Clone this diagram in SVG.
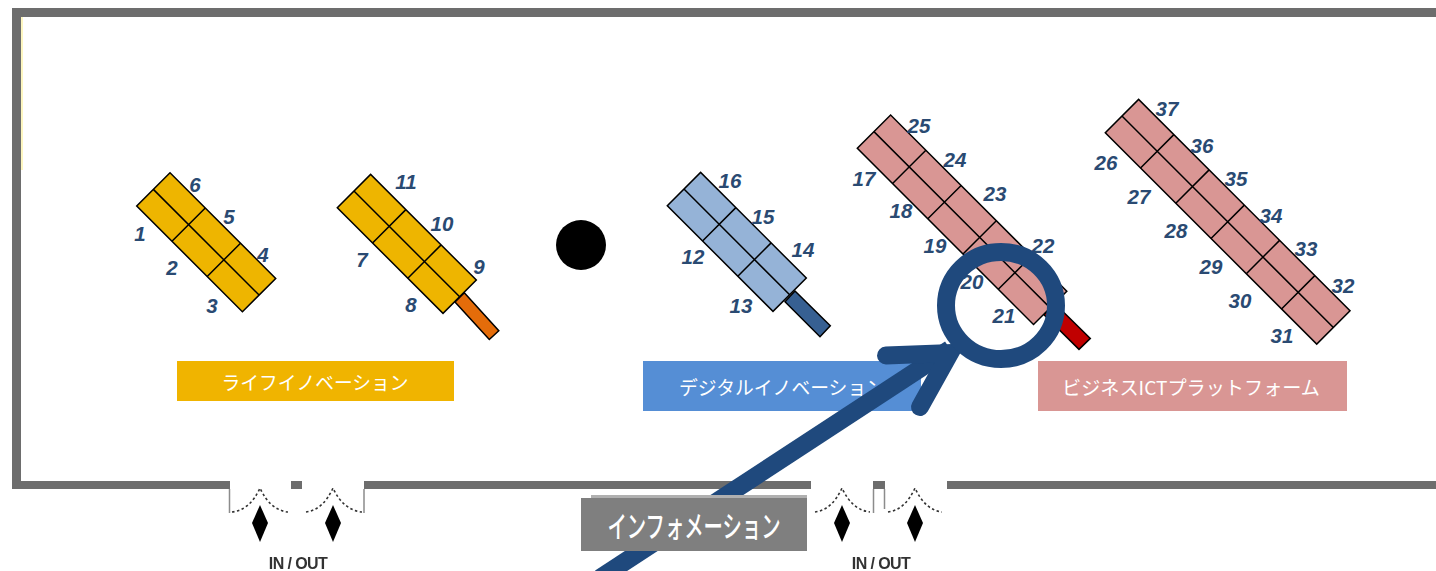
<svg xmlns="http://www.w3.org/2000/svg" width="1436" height="571" viewBox="0 0 1436 571">
<defs><filter id="soft" x="-5%" y="-5%" width="110%" height="110%"><feGaussianBlur stdDeviation="0.6"/></filter></defs>
<style>
text{font-family:"Noto Sans CJK JP","Liberation Sans",sans-serif}
.wall{fill:#6d6d6d}
.jamb{stroke:#8c8c8c;stroke-width:1.5;fill:none}
.arc{stroke:#333;stroke-width:1.6;stroke-dasharray:2.5 2.5;fill:none}
.dia{fill:#000}
.io{font-family:"Liberation Sans",Arial,sans-serif;font-size:16px;font-weight:bold;fill:#333;letter-spacing:-0.6px;text-anchor:middle}
.cell{stroke:#000;stroke-width:1.5}
.ln{stroke:#000;stroke-width:1.5}
.stick{stroke:#000;stroke-width:1.5}
.n{font-family:"Liberation Sans",Arial,sans-serif;font-size:20.5px;font-weight:bold;font-style:italic;fill:#2a4a72;text-anchor:middle}
.lab{fill:#fff;font-size:19px;text-anchor:middle}
.y{fill:#eeb500}.b{fill:#95b3d7}.p{fill:#d99694}
</style>
<rect width="1436" height="571" fill="#fff"/>
<g id="room" filter="url(#soft)">
<rect class="wall" x="12" y="8" width="1430" height="9"/>
<rect class="wall" x="12" y="8" width="9" height="481"/>
<rect class="wall" x="12" y="481" width="218" height="8"/>
<rect class="wall" x="291" y="481" width="11" height="8"/>
<rect class="wall" x="364" y="481" width="447" height="8"/>
<rect class="wall" x="873" y="481" width="12" height="8"/>
<rect class="wall" x="947" y="481" width="495" height="8"/>
<path class="jamb" d="M229.5 489V513M364 489V513M873.5 489V513M884.5 489V509"/>
</g>
<rect id="room-edge" x="21" y="17" width="2" height="153" fill="#fdf6c0"/>
<g id="door-1" filter="url(#soft)">
<path class="arc" d="M232 512Q250 510 260 488Q270 510 288 512"/>
<path class="dia" d="M260 505L268 523L260 542L252 523Z"/>
</g>
<g id="door-2" filter="url(#soft)">
<path class="arc" d="M306 512Q323 510 333 488Q343 510 362 512"/>
<path class="dia" d="M333 505L341 523L333 542L325 523Z"/>
<text class="io" x="298" y="569">IN / OUT</text>
</g>
<g id="door-3" filter="url(#soft)">
<path class="arc" d="M815 512Q832 510 842 488Q852 510 870 512"/>
<path class="dia" d="M842 505L850 523L842 542L834 523Z"/>
</g>
<g id="door-4" filter="url(#soft)">
<path class="arc" d="M888 512Q905 510 915 488Q925 510 942 512"/>
<path class="dia" d="M915 505L923 523L915 542L907 523Z"/>
<text class="io" x="881" y="569">IN / OUT</text>
</g>
<g id="booth-1-6">
<g transform="translate(136.7 206) rotate(45)">
<rect class="cell y" x="0" y="-47.1" width="149.5" height="47.1"/>
<path class="ln" d="M0 -23.55H149.5M49.85 -47.1V0M99.7 -47.1V0"/>
</g>
<text class="n" x="140" y="241">1</text><text class="n" x="172" y="275">2</text><text class="n" x="212" y="313">3</text><text class="n" x="263" y="262">4</text><text class="n" x="229" y="224">5</text><text class="n" x="195" y="192">6</text>
</g>
<g id="booth-7-11">
<polygon class="stick" fill="#e46c0a" points="464.3,292.7 498.8,330.7 489.3,339.5 455,302"/>
<g transform="translate(337.3 207.7) rotate(45)">
<rect class="cell y" x="0" y="-47.1" width="149.5" height="47.1"/>
<path class="ln" d="M0 -23.55H149.5M49.85 -47.1V0M99.7 -47.1V0"/>
</g>
<text class="n" x="362" y="267">7</text><text class="n" x="411" y="312">8</text><text class="n" x="479" y="274">9</text><text class="n" x="442" y="231">10</text><text class="n" x="406" y="189">11</text>
</g>
<g id="speaker"><circle cx="581" cy="245" r="25" fill="#000"/></g>
<g id="booth-12-16">
<polygon class="stick" fill="#376092" points="795,291 830.3,325.7 820,336.7 785,301.7"/>
<g transform="translate(667.3 205.7) rotate(45)">
<rect class="cell b" x="0" y="-47.1" width="149.5" height="47.1"/>
<path class="ln" d="M0 -23.55H149.5M49.85 -47.1V0M99.7 -47.1V0"/>
</g>
<text class="n" x="693" y="264">12</text><text class="n" x="741" y="313">13</text><text class="n" x="803" y="257">14</text><text class="n" x="763" y="224">15</text><text class="n" x="730" y="188">16</text>
</g>
<g id="booth-17-25">
<polygon class="stick" fill="#c00000" points="1055,303.7 1090.3,338.4 1079,349.4 1044,314.7"/>
<g transform="translate(857.3 148.3) rotate(45)">
<rect class="cell p" x="0" y="-47.1" width="249.2" height="47.1"/>
<path class="ln" d="M0 -23.55H249.2M49.85 -47.1V0M99.7 -47.1V0M149.5 -47.1V0M199.4 -47.1V0"/>
</g>
<text class="n" x="864" y="186">17</text><text class="n" x="901" y="218">18</text><text class="n" x="935" y="253">19</text><text class="n" x="972" y="289">20</text><text class="n" x="1004" y="323">21</text><text class="n" x="1043" y="253">22</text><text class="n" x="995" y="201">23</text><text class="n" x="955" y="167">24</text><text class="n" x="919" y="133">25</text>
</g>
<g id="booth-26-37">
<g transform="translate(1105.3 132.7) rotate(45)">
<rect class="cell p" x="0" y="-47.1" width="299" height="47.1"/>
<path class="ln" d="M0 -23.55H299M49.85 -47.1V0M99.7 -47.1V0M149.5 -47.1V0M199.4 -47.1V0M249.2 -47.1V0"/>
</g>
<text class="n" x="1106" y="170">26</text><text class="n" x="1139" y="204">27</text><text class="n" x="1176" y="238">28</text><text class="n" x="1211" y="274">29</text><text class="n" x="1240" y="308">30</text><text class="n" x="1282" y="343">31</text><text class="n" x="1343" y="293">32</text><text class="n" x="1306" y="256">33</text><text class="n" x="1271" y="223">34</text><text class="n" x="1236" y="186">35</text><text class="n" x="1202" y="153">36</text><text class="n" x="1167" y="116">37</text>
</g>
<g id="label-life">
<rect x="177" y="361" width="277" height="40" fill="#f0b400"/>
<text class="lab" x="315" y="390" textLength="187" lengthAdjust="spacingAndGlyphs">ライフイノベーション</text>
</g>
<g id="label-digital">
<rect x="643" y="361" width="278" height="50" fill="#558ed5"/>
<text class="lab" x="782" y="395" textLength="206" lengthAdjust="spacingAndGlyphs">デジタルイノベーション</text>
</g>
<g id="label-ict">
<rect x="1038" y="361" width="309" height="50" fill="#d99694"/>
<text class="lab" x="1191" y="395" textLength="258" lengthAdjust="spacingAndGlyphs">ビジネスICTプラットフォーム</text>
</g>
<g id="connectors">
<path d="M600 578L950 349" fill="none" stroke="#1f497d" stroke-width="18"/>
<path d="M886 355.5L950 353L920 407" fill="none" stroke="#1f497d" stroke-width="18" stroke-linecap="round" stroke-miterlimit="10"/>
</g>
<g id="highlight-ring">
<ellipse cx="1001" cy="305.5" rx="55" ry="53.5" fill="none" stroke="#1f497d" stroke-width="18"/>
</g>
<g id="label-info">
<rect x="591" y="495" width="216" height="3" fill="#b0b0b0"/>
<rect x="581" y="498" width="226" height="53" fill="#7f7f7f"/>
<text x="694" y="537" fill="#fff" font-size="30" font-weight="500" text-anchor="middle" textLength="173" lengthAdjust="spacingAndGlyphs">インフォメーション</text>
</g>
</svg>
